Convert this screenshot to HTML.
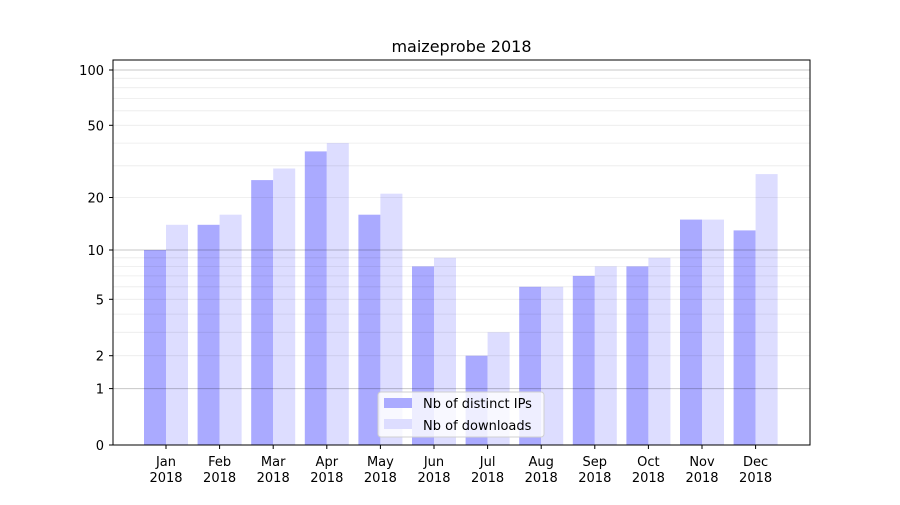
<!DOCTYPE html>
<html><head><meta charset="utf-8"><style>
body{margin:0;background:#fff}
text{font-family:"DejaVu Sans","Liberation Sans",sans-serif;font-size:13px;fill:#000}
</style></head><body>
<svg width="900" height="500" xmlns="http://www.w3.org/2000/svg">
<rect width="900" height="500" fill="#fff"/>
<g fill="#aaaaff">
<rect x="144" y="250" width="22" height="195"/>
<rect x="197.6" y="224.8" width="22" height="220.2"/>
<rect x="251.2" y="180.1" width="22" height="264.9"/>
<rect x="304.8" y="151.4" width="22" height="293.6"/>
<rect x="358.4" y="214.7" width="22" height="230.3"/>
<rect x="412" y="266.4" width="22" height="178.6"/>
<rect x="465.6" y="355.7" width="22" height="89.3"/>
<rect x="519.2" y="286.8" width="22" height="158.2"/>
<rect x="572.8" y="275.9" width="22" height="169.1"/>
<rect x="626.4" y="266.4" width="22" height="178.6"/>
<rect x="680" y="219.6" width="22" height="225.4"/>
<rect x="733.6" y="230.4" width="22" height="214.6"/>
</g>
<g fill="#ddddff">
<rect x="166" y="224.8" width="22" height="220.2"/>
<rect x="219.6" y="214.7" width="22" height="230.3"/>
<rect x="273.2" y="168.5" width="22" height="276.5"/>
<rect x="326.8" y="143.1" width="22" height="301.9"/>
<rect x="380.4" y="193.7" width="22" height="251.3"/>
<rect x="434" y="257.8" width="22" height="187.2"/>
<rect x="487.6" y="332.3" width="22" height="112.7"/>
<rect x="541.2" y="286.8" width="22" height="158.2"/>
<rect x="594.8" y="266.4" width="22" height="178.6"/>
<rect x="648.4" y="257.8" width="22" height="187.2"/>
<rect x="702" y="219.6" width="22" height="225.4"/>
<rect x="755.6" y="174.1" width="22" height="270.9"/>
</g>
<g stroke="rgba(0,0,0,0.08)" stroke-width="0.8">
<line x1="113" x2="810" y1="355.7" y2="355.7"/><line x1="113" x2="810" y1="332.3" y2="332.3"/>
<line x1="113" x2="810" y1="314.1" y2="314.1"/><line x1="113" x2="810" y1="299.3" y2="299.3"/>
<line x1="113" x2="810" y1="286.8" y2="286.8"/><line x1="113" x2="810" y1="275.9" y2="275.9"/>
<line x1="113" x2="810" y1="266.4" y2="266.4"/><line x1="113" x2="810" y1="257.8" y2="257.8"/>
<line x1="113" x2="810" y1="197.5" y2="197.5"/><line x1="113" x2="810" y1="165.8" y2="165.8"/>
<line x1="113" x2="810" y1="143.1" y2="143.1"/><line x1="113" x2="810" y1="125.3" y2="125.3"/>
<line x1="113" x2="810" y1="110.8" y2="110.8"/><line x1="113" x2="810" y1="98.4" y2="98.4"/>
<line x1="113" x2="810" y1="87.7" y2="87.7"/><line x1="113" x2="810" y1="78.3" y2="78.3"/>
</g>
<g stroke="rgba(0,0,0,0.22)" stroke-width="1">
<line x1="113" x2="810" y1="388.6" y2="388.6"/><line x1="113" x2="810" y1="250" y2="250"/><line x1="113" x2="810" y1="70" y2="70"/>
</g>
<rect x="113" y="60" width="697" height="385" fill="none" stroke="#000" stroke-width="1"/>
<g stroke="#000">
<line x1="109" x2="113" y1="445" y2="445"/><line x1="109" x2="113" y1="388.6" y2="388.6"/>
<line x1="109" x2="113" y1="355.7" y2="355.7"/><line x1="109" x2="113" y1="299.3" y2="299.3"/>
<line x1="109" x2="113" y1="250" y2="250"/><line x1="109" x2="113" y1="197.5" y2="197.5"/>
<line x1="109" x2="113" y1="125.3" y2="125.3"/><line x1="109" x2="113" y1="70" y2="70"/>
</g>
<g text-anchor="end">
<text x="104" y="450">0</text><text x="104" y="393.6">1</text><text x="104" y="360.7">2</text>
<text x="104" y="304.3">5</text><text x="104" y="255">10</text><text x="104" y="202.5">20</text>
<text x="104" y="130.3">50</text><text x="104" y="75">100</text>
</g>
<g stroke="#000">
<line x1="166" x2="166" y1="445" y2="449"/><line x1="219.6" x2="219.6" y1="445" y2="449"/>
<line x1="273.2" x2="273.2" y1="445" y2="449"/><line x1="326.8" x2="326.8" y1="445" y2="449"/>
<line x1="380.4" x2="380.4" y1="445" y2="449"/><line x1="434" x2="434" y1="445" y2="449"/>
<line x1="487.6" x2="487.6" y1="445" y2="449"/><line x1="541.2" x2="541.2" y1="445" y2="449"/>
<line x1="594.8" x2="594.8" y1="445" y2="449"/><line x1="648.4" x2="648.4" y1="445" y2="449"/>
<line x1="702" x2="702" y1="445" y2="449"/><line x1="755.6" x2="755.6" y1="445" y2="449"/>
</g>
<g text-anchor="middle">
<text x="166" y="466">Jan</text><text x="166" y="482">2018</text>
<text x="219.6" y="466">Feb</text><text x="219.6" y="482">2018</text>
<text x="273.2" y="466">Mar</text><text x="273.2" y="482">2018</text>
<text x="326.8" y="466">Apr</text><text x="326.8" y="482">2018</text>
<text x="380.4" y="466">May</text><text x="380.4" y="482">2018</text>
<text x="434" y="466">Jun</text><text x="434" y="482">2018</text>
<text x="487.6" y="466">Jul</text><text x="487.6" y="482">2018</text>
<text x="541.2" y="466">Aug</text><text x="541.2" y="482">2018</text>
<text x="594.8" y="466">Sep</text><text x="594.8" y="482">2018</text>
<text x="648.4" y="466">Oct</text><text x="648.4" y="482">2018</text>
<text x="702" y="466">Nov</text><text x="702" y="482">2018</text>
<text x="755.6" y="466">Dec</text><text x="755.6" y="482">2018</text>
<text x="461.5" y="52" style="font-size:16px">maizeprobe 2018</text>
</g>
<rect x="378" y="392" width="166" height="45" rx="3" fill="#fff" fill-opacity="0.8" stroke="#d0d0d0"/>
<rect x="384" y="398" width="28" height="10" fill="#aaaaff"/>
<rect x="384" y="419" width="28" height="10" fill="#ddddff"/>
<text x="423" y="408">Nb of distinct IPs</text>
<text x="423" y="430">Nb of downloads</text>
</svg>
</body></html>
